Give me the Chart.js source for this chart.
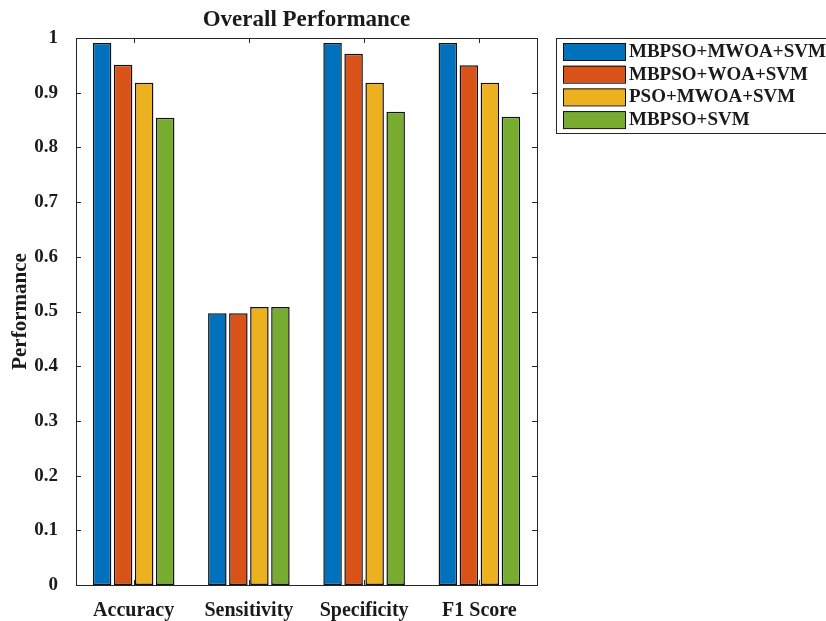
<!DOCTYPE html>
<html>
<head>
<meta charset="utf-8">
<script src="https://cdn.jsdelivr.net/npm/chart.js@4.4.1/dist/chart.umd.min.js"></script>
<style>
  html, body { margin: 0; padding: 0; background: #fff; }
  #wrap { width: 826px; height: 621px; }
</style>
</head>
<body>
<div id="wrap"><canvas id="perf"></canvas></div>
<script>
var categories = ["Accuracy", "Sensitivity", "Specificity", "F1 Score"];
var seriesNames = ["MBPSO+MWOA+SVM", "MBPSO+WOA+SVM", "PSO+MWOA+SVM", "MBPSO+SVM"];
var mbpsoMwoa = [0.991, 0.497, 0.991, 0.991];
var mbpsoWoa  = [0.951, 0.497, 0.971, 0.950];
var psoMwoa   = [0.918, 0.508, 0.918, 0.918];
var mbpsoSvm  = [0.854, 0.508, 0.865, 0.856];
var seriesColors = ["#0072BD", "#D95319", "#EDB120", "#77AC30"];
var yTicks = [0, 0.1, 0.2, 0.3, 0.4, 0.5, 0.6, 0.7, 0.8, 0.9, 1];

var serif = "'Liberation Serif', 'Times New Roman', serif";
var seriesValues = [mbpsoMwoa, mbpsoWoa, psoMwoa, mbpsoSvm];

var datasets = [];
for (var i = 0; i < seriesNames.length; i++) {
    datasets.push({
        label: seriesNames[i],
        data: seriesValues[i],
        backgroundColor: seriesColors[i],
        borderColor: "#111",
        borderWidth: 1.5,
        borderSkipped: false,
        categoryPercentage: 0.73,
        barPercentage: 0.88
    });
}

// box, inward ticks, title and legend, drawn like the matlab figure
var matlabFrame = {
    id: "matlabFrame",
    afterDraw: function (chart) {
        var ctx = chart.ctx, a = chart.chartArea;
        var xs = chart.scales.x, ys = chart.scales.y;
        ctx.save();
        ctx.strokeStyle = "#262626";
        ctx.lineWidth = 1;
        ctx.strokeRect(Math.round(a.left) + 0.5, Math.round(a.top) + 0.5,
            Math.round(a.right - a.left), Math.round(a.bottom - a.top));

        ctx.beginPath();
        for (var i = 0; i < yTicks.length; i++) {
            var y = Math.round(ys.getPixelForValue(yTicks[i])) + 0.5;
            ctx.moveTo(a.left, y); ctx.lineTo(a.left + 5, y);
            ctx.moveTo(a.right, y); ctx.lineTo(a.right - 5, y);
        }
        for (var j = 0; j < categories.length; j++) {
            var x = Math.round(xs.getPixelForValue(j)) + 0.5;
            ctx.moveTo(x, a.bottom); ctx.lineTo(x, a.bottom - 5);
            ctx.moveTo(x, a.top); ctx.lineTo(x, a.top + 5);
        }
        ctx.stroke();

        // title
        ctx.fillStyle = "#1a1a1a";
        ctx.font = "bold 23px " + serif;
        ctx.textAlign = "center";
        ctx.textBaseline = "middle";
        ctx.fillText("Overall Performance", (a.left + a.right) / 2, 20);

        // legend
        var lx = 556, ly = 38, rowH = 22.7;
        ctx.fillStyle = "#fff";
        ctx.fillRect(lx, ly, 290, 96);
        ctx.strokeStyle = "#262626";
        ctx.strokeRect(lx + 0.5, ly + 0.5, 290, 95);
        ctx.font = "bold 19px " + serif;
        ctx.textAlign = "left";
        for (var k = 0; k < chart.data.datasets.length; k++) {
            var ds = chart.data.datasets[k];
            var ry = ly + 5 + k * rowH;
            ctx.fillStyle = ds.backgroundColor;
            ctx.fillRect(563, ry, 62, 17);
            ctx.strokeStyle = "#111";
            ctx.strokeRect(563.5, ry + 0.5, 62, 17);
            ctx.fillStyle = "#1a1a1a";
            ctx.fillText(ds.label, 629, ry + 9);
        }
        ctx.restore();
    }
};

new Chart(document.getElementById("perf"), {
    type: "bar",
    data: { labels: categories, datasets: datasets },
    options: {
        responsive: true,
        maintainAspectRatio: false,
        animation: false,
        layout: { padding: { top: 38, right: 289, left: 0, bottom: 0 } },
        plugins: {
            legend: { display: false },
            title: { display: false },
            tooltip: { enabled: false }
        },
        scales: {
            x: {
                grid: { display: false },
                border: { display: false },
                ticks: {
                    color: "#1a1a1a",
                    padding: 6,
                    font: { family: serif, size: 20, weight: "bold" }
                },
                afterFit: function (scale) { scale.height = 36; }
            },
            y: {
                min: 0,
                max: 1,
                grid: { display: false },
                border: { display: false },
                afterBuildTicks: function (scale) {
                    scale.ticks = yTicks.map(function (v) { return { value: v }; });
                },
                ticks: {
                    color: "#1a1a1a",
                    padding: 10,
                    font: { family: serif, size: 19, weight: "bold" },
                    callback: function (v) {
                        return (v === 0 || v === 1) ? String(v) : v.toFixed(1);
                    }
                },
                title: {
                    display: true,
                    text: "Performance",
                    color: "#1a1a1a",
                    padding: { top: 8, bottom: 0 },
                    font: { family: serif, size: 21, weight: "bold" }
                },
                afterFit: function (scale) { scale.width = 76; }
            }
        }
    },
    plugins: [matlabFrame]
});
</script>
</body>
</html>
